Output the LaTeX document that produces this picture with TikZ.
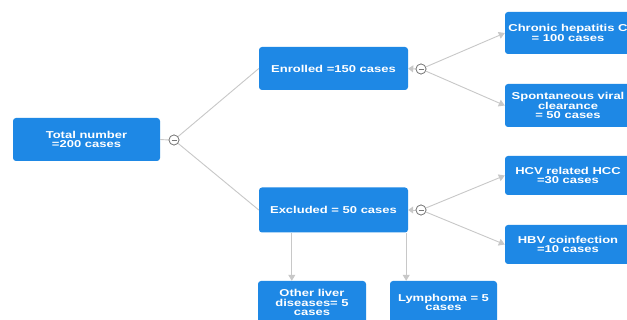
\documentclass[tikz,border=0pt]{standalone}
\usepackage{fontspec}
\setmainfont{Liberation Sans}[FakeStretch=1.3]
\usetikzlibrary{arrows.meta}
\definecolor{boxblue}{RGB}{30,136,229}
\definecolor{linegray}{RGB}{200,200,200}
\definecolor{circgray}{RGB}{120,120,120}
\begin{document}
\begin{tikzpicture}[x=1pt,y=-1pt,
  box/.style={fill=boxblue, rounded corners=3pt, text=white,
    font=\bfseries\fontsize{10}{9.4}\selectfont, align=center, inner sep=0pt},
  conn/.style={draw=linegray, line width=0.9pt},
  tip/.style={-{Triangle[width=7pt,length=6pt,fill=linegray]}},
  backtip/.style={-{Triangle[width=7pt,length=5pt,fill=linegray]}},
  coll/.style={circle, draw=circgray, fill=white, line width=0.7pt, minimum size=10pt, inner sep=0pt,
    path picture={\draw[circgray, line width=0.7pt]
      ([xshift=-2.5pt]path picture bounding box.center) -- ([xshift=2.5pt]path picture bounding box.center);}}
]
\clip (0,0) rectangle (627,320);
\fill[white] (0,0) rectangle (627,320);

\node[box, minimum width=147pt, minimum height=43pt] (total) at (86.5,139.5) {Total number\\=200 cases};
\node[box, minimum width=149pt, minimum height=43pt] (enr) at (333.5,68.5) {Enrolled =150 cases};
\node[box, minimum width=149pt, minimum height=45pt] (exc) at (333.5,210) {Excluded = 50 cases};
\node[box, minimum width=126pt, minimum height=42pt] (chr) at (568,33) {Chronic hepatitis C\\= 100 cases};
\node[box, minimum width=126pt, minimum height=43pt] (spo) at (568,105.5) {Spontaneous viral\\clearance\\= 50 cases};
\node[box, minimum width=126pt, minimum height=39pt] (hcv) at (568,175.5) {HCV related HCC\\=30 cases};
\node[box, minimum width=126pt, minimum height=39pt] (hbv) at (568,244.5) {HBV coinfection\\=10 cases};
\node[box, minimum width=108pt, minimum height=43pt] (oth) at (312,302.5) {Other liver\\diseases= 5\\cases};
\node[box, minimum width=107pt, minimum height=43pt] (lym) at (443.5,302.5) {Lymphoma = 5\\cases};

\node[coll] (c1) at (174,140) {};
\node[coll] (c2) at (421,69) {};
\node[coll] (c3) at (421,210) {};

\draw[conn] (total.east) -- (c1.west);
\draw[conn] (c1) -- (enr.west);
\draw[conn] (c1) -- (exc.west);
\draw[conn, tip] (c2) -- (chr.west);
\draw[conn, tip] (c2) -- (spo.west);
\draw[conn, tip] (c3) -- (hcv.west);
\draw[conn, tip] (c3) -- (hbv.west);
\draw[conn, backtip] (c2.west) -- (enr.east);
\draw[conn, backtip] (c3.west) -- (exc.east);
\coordinate (x1) at ([xshift=33pt]exc.south west);
\coordinate (x2) at ([xshift=-2pt]exc.south east);
\draw[conn, tip] (x1) -- (x1 |- oth.north);
\draw[conn, tip] (x2) -- (x2 |- lym.north);

\node[coll] at (c1) {};
\node[coll] at (c2) {};
\node[coll] at (c3) {};
\end{tikzpicture}
\end{document}
